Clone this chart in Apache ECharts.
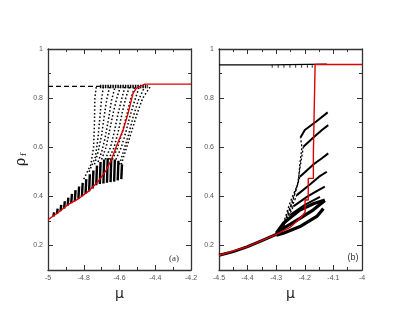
<!DOCTYPE html>
<html><head><meta charset="utf-8">
<script src="https://cdn.jsdelivr.net/npm/echarts@6/dist/echarts.min.js"></script>
<style>html,body{margin:0;padding:0;background:#fff}#c{width:393px;height:317px}</style>
</head><body><div id="c"></div>
<script>
// ---------- tick labels ----------
const xTicksA = [-5, -4.8, -4.6, -4.4, -4.2];
const xTicksB = [-4.5, -4.4, -4.3, -4.2, -4.1, -4];
const yTicks = [0.2, 0.4, 0.6, 0.8, 1];
const yMinorTicks = [0.1, 0.3, 0.5, 0.7, 0.9];

// ---------- panel (a) data ----------
const aRed = [[-5,0.305],[-4.95,0.33],[-4.888,0.366],[-4.83,0.39],[-4.776,0.419],[-4.72,0.46],[-4.674,0.507],[-4.646,0.548],[-4.618,0.602],[-4.58,0.67],[-4.552,0.738],[-4.524,0.82],[-4.506,0.84],[-4.459,0.857],[-4.2,0.857]];
const aTopDash = [[-5,0.848],[-4.71,0.848]];
const aTopBlock = [[-4.71,0.847],[-4.44,0.847]];
// vertical spikes in the dense region: mu, bottom, top
const aSpikeMu  = [-4.97,-4.95,-4.93,-4.91,-4.89,-4.87,-4.85,-4.83,-4.81,-4.79,-4.77,-4.75,-4.73,-4.71,-4.69,-4.67,-4.65,-4.63,-4.61,-4.59];
const aSpikeLow = [0.318,0.328,0.34,0.35,0.362,0.372,0.38,0.39,0.4,0.41,0.42,0.432,0.445,0.45,0.452,0.455,0.458,0.46,0.465,0.47];
const aSpikeTop = [0.335,0.35,0.365,0.38,0.395,0.41,0.425,0.44,0.455,0.47,0.49,0.505,0.525,0.54,0.55,0.555,0.555,0.55,0.545,0.53];
// dotted branches
const aD1 = [[-4.8,0.47],[-4.76,0.53],[-4.745,0.6],[-4.74,0.7],[-4.738,0.8],[-4.73,0.845]];
const aD2 = [[-4.77,0.5],[-4.735,0.56],[-4.72,0.64],[-4.71,0.72],[-4.7,0.8],[-4.69,0.845]];
const aD3 = [[-4.74,0.53],[-4.72,0.58],[-4.7,0.65],[-4.685,0.73],[-4.67,0.8],[-4.655,0.845]];
const aD4 = [[-4.72,0.54],[-4.7,0.58],[-4.68,0.64],[-4.66,0.72],[-4.645,0.79],[-4.625,0.845]];
const aD5 = [[-4.7,0.55],[-4.675,0.6],[-4.655,0.67],[-4.635,0.74],[-4.615,0.8],[-4.595,0.845]];
const aD6 = [[-4.68,0.55],[-4.65,0.6],[-4.63,0.66],[-4.61,0.73],[-4.59,0.79],[-4.57,0.845]];
const aD7 = [[-4.66,0.55],[-4.63,0.6],[-4.605,0.67],[-4.585,0.74],[-4.565,0.8],[-4.545,0.845]];
const aD8 = [[-4.64,0.55],[-4.61,0.6],[-4.585,0.66],[-4.56,0.73],[-4.54,0.79],[-4.515,0.845]];
const aD9 = [[-4.62,0.55],[-4.59,0.6],[-4.565,0.66],[-4.54,0.73],[-4.515,0.79],[-4.49,0.845]];
const aD10 = [[-4.6,0.53],[-4.575,0.59],[-4.55,0.65],[-4.525,0.72],[-4.495,0.79],[-4.46,0.845]];
const aD11 = [[-4.59,0.53],[-4.56,0.6],[-4.53,0.67],[-4.5,0.74],[-4.47,0.8],[-4.425,0.85]];
const aDotted = [aD1,aD2,aD3,aD4,aD5,aD6,aD7,aD8,aD9,aD10,aD11];

// ---------- panel (b) data ----------
const bRed = [[-4.5,0.16],[-4.4,0.195],[-4.3,0.245],[-4.25,0.275],[-4.217,0.31],[-4.199,0.335],[-4.199,0.385],[-4.188,0.385],[-4.188,0.473],[-4.17,0.473],[-4.17,0.575],[-4.164,0.575],[-4.164,0.937],[-4,0.937]];
const bTop = [[-4.5,0.935],[-4.32,0.935],[-4.32,0.938],[-4.123,0.938]];
const bTopTicks = [[-4.314,0.93],[-4.293,0.93],[-4.273,0.93],[-4.252,0.93],[-4.232,0.93],[-4.211,0.93],[-4.191,0.93],[-4.174,0.93]];
const bBase = [[-4.5,0.16],[-4.45,0.175],[-4.4,0.195],[-4.35,0.22],[-4.3,0.245]];
const bC1 = [[-4.3,0.25],[-4.275,0.29],[-4.217,0.344],[-4.17,0.37],[-4.13,0.385]];
const bC2 = [[-4.3,0.245],[-4.275,0.27],[-4.217,0.31],[-4.17,0.345],[-4.13,0.383]];
const bC3 = [[-4.3,0.242],[-4.275,0.25],[-4.217,0.277],[-4.158,0.318],[-4.135,0.35]];
const bCluster = [bC1,bC2,bC3];
const bL1 = [[-4.215,0.64],[-4.2,0.67],[-4.16,0.705],[-4.12,0.742]];
const bL2 = [[-4.205,0.602],[-4.17,0.64],[-4.14,0.67],[-4.118,0.69]];
const bL3 = [[-4.217,0.48],[-4.17,0.53],[-4.14,0.555],[-4.118,0.575]];
const bL4 = [[-4.228,0.405],[-4.18,0.45],[-4.15,0.48],[-4.123,0.5]];
const bL5 = [[-4.24,0.359],[-4.19,0.4],[-4.16,0.42],[-4.13,0.44]];
const bL6 = [[-4.252,0.324],[-4.2,0.365],[-4.147,0.398]];
const bFan = [bL1,bL2,bL3,bL4,bL5,bL6];
const bT1 = [[-4.275,0.29],[-4.25,0.38],[-4.223,0.454],[-4.217,0.534],[-4.21,0.6],[-4.215,0.64]];
const bT2 = [[-4.275,0.28],[-4.245,0.37],[-4.225,0.45],[-4.215,0.53],[-4.205,0.602]];
const bT3 = [[-4.28,0.27],[-4.25,0.36],[-4.23,0.43],[-4.217,0.48]];
const bT4 = [[-4.28,0.265],[-4.255,0.33],[-4.228,0.405]];
const bT5 = [[-4.28,0.26],[-4.24,0.359]];
const bConnect = [bT1,bT2,bT3,bT4,bT5];

// ---------- layout ----------
const AX = '#333';
const LBL = '#555';
const fmt = v => String(+(+v).toFixed(2));
function xAxes(grid, min, max, interval, ticks) {
  const base = {type:'value', gridIndex:grid, min:min, max:max, interval:interval, splitLine:{show:false},
    axisLine:{show:true, onZero:false, lineStyle:{color:AX, width:1.3}},
    axisTick:{show:true, inside:true, length:5, lineStyle:{color:AX}},
    minorTick:{show:true, splitNumber:2, length:3, lineStyle:{color:AX}}};
  return [
    Object.assign({}, base, {position:'bottom', name:'μ', nameLocation:'middle', nameGap:14,
      nameTextStyle:{fontSize:14, fontFamily:'DejaVu Sans', color:'#222'},
      axisLabel:{show:true, fontSize:7, color:LBL, margin:5, fontFamily:'Liberation Sans', customValues:ticks, formatter:fmt}}),
    Object.assign({}, base, {position:'top', axisLabel:{show:false}})
  ];
}
function yAxes(grid) {
  const major = {type:'value', gridIndex:grid, min:0.1, max:1, splitLine:{show:false},
    axisLine:{show:true, onZero:false, lineStyle:{color:AX, width:1.3}},
    axisTick:{show:true, inside:true, length:5, customValues:yTicks, lineStyle:{color:AX}}};
  const minor = {type:'value', gridIndex:grid, min:0.1, max:1, splitLine:{show:false},
    axisLine:{show:false}, axisLabel:{show:false},
    axisTick:{show:true, inside:true, length:3, customValues:yMinorTicks, lineStyle:{color:AX}}};
  return [
    Object.assign({}, major, {position:'left', axisLabel:{show:true, fontSize:7, color:LBL, margin:5, fontFamily:'Liberation Sans', customValues:yTicks, formatter:fmt}}),
    Object.assign({}, minor, {position:'left'}),
    Object.assign({}, major, {position:'right', axisLabel:{show:false}}),
    Object.assign({}, minor, {position:'right'})
  ];
}

const series = [];
function line(data, xi, yi, color, width, type, z) {
  series.push({type:'line', data:data, xAxisIndex:xi, yAxisIndex:yi, symbol:'none', silent:true, animation:false,
    z:z||2, lineStyle:{color:color, width:width, type:type, cap:'butt'}});
}
// panel a
aSpikeMu.forEach((m, i) => line([[m, aSpikeLow[i]], [m + 0.004, aSpikeTop[i]]], 0, 0, '#000', 2.4, 'solid'));
aDotted.forEach(c => line(c, 0, 0, '#000', 1.5, [1.5,2.2]));
line(aTopDash, 0, 0, '#000', 1.2, [5,3]);
line(aTopBlock, 0, 0, '#000', 3.5, [1.5,1]);
line(aRed, 0, 0, '#e00000', 1.4, 'solid', 5);
// panel b
line(bBase, 2, 4, '#000', 3, 'solid');
bCluster.forEach(c => line(c, 2, 4, '#000', 3.2, 'solid'));
bConnect.forEach(c => line(c, 2, 4, '#000', 1.3, [2,2]));
bFan.forEach(c => line(c, 2, 4, '#000', 2, 'solid'));
line(bTop, 2, 4, '#000', 1.3, 'solid');
series.push({type:'scatter', data:bTopTicks, xAxisIndex:2, yAxisIndex:4, symbol:'rect', symbolSize:[1,3],
  itemStyle:{color:'#000'}, silent:true, animation:false});
line(bRed, 2, 4, '#e00000', 1.4, 'solid', 5);

const option = {
  animation:false,
  backgroundColor:'#fff',
  grid:[{left:48, top:49, width:143, height:221}, {left:219, top:49, width:143, height:221}],
  xAxis:[].concat(xAxes(0, -5, -4.2, 0.2, xTicksA), xAxes(1, -4.5, -4, 0.1, xTicksB)),
  yAxis:[].concat(yAxes(0), yAxes(1)),
  series:series,
  graphic:[
    {type:'group', x:21, y:162, rotation:Math.PI/2, children:[
      {type:'text', x:0, y:0, style:{text:'ρ', fontSize:14, fontFamily:'DejaVu Serif', fill:'#222', align:'center', verticalAlign:'middle'}},
      {type:'text', x:6, y:3, style:{text:'f', fontSize:8, fontFamily:'DejaVu Serif', fill:'#222', align:'left', verticalAlign:'middle'}}
    ]},
    {type:'text', x:174, y:259, style:{text:'(a)', fontSize:9, fontFamily:'Liberation Serif', fill:'#333', align:'center', verticalAlign:'middle'}},
    {type:'text', x:353, y:258, style:{text:'(b)', fontSize:9, fontFamily:'Liberation Sans', fill:'#333', align:'center', verticalAlign:'middle'}}
  ]
};
const chart = echarts.init(document.getElementById('c'), null, {renderer:'canvas'});
chart.setOption(option);
</script></body></html>
